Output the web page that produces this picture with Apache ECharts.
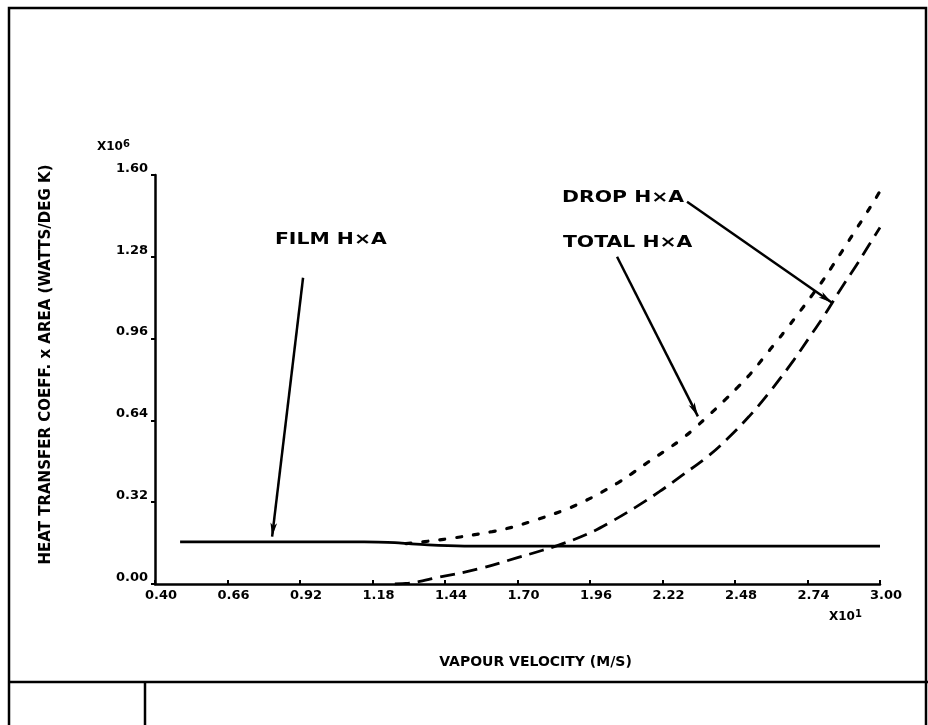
<!DOCTYPE html>
<html><head><meta charset="utf-8">
<script src="https://cdn.jsdelivr.net/npm/echarts@6/dist/echarts.min.js"></script>
<style>html,body{margin:0;padding:0;background:#fff}#c{width:928px;height:725px}</style>
</head><body><div id="c"></div><script>
// ---- data ----
const xTicks = [0.40,0.66,0.92,1.18,1.44,1.70,1.96,2.22,2.48,2.74,3.00];
const yTicks = [0.00,0.32,0.64,0.96,1.28,1.60];

const filmX = [0.49,0.80,1.10,1.20,1.26,1.32,1.38,1.45,1.55,2.00,2.50,3.00];
const filmY = [0.165,0.165,0.165,0.164,0.162,0.157,0.153,0.150,0.148,0.148,0.148,0.148];

const totalX = [1.30,1.40,1.47,1.61,1.68,1.75,1.87,1.94,2.00,2.06,2.11,2.17,2.23,2.29,2.34,2.39,2.44,2.49,2.54,2.58,2.63,2.67,2.71,2.76,2.80,2.83,2.87,2.91,2.95,2.98,3.00];
const totalY = [0.158,0.170,0.180,0.205,0.222,0.245,0.290,0.324,0.358,0.396,0.432,0.478,0.522,0.568,0.614,0.664,0.716,0.770,0.828,0.882,0.950,1.005,1.062,1.135,1.195,1.245,1.312,1.380,1.448,1.500,1.537];

const dropX = [1.26,1.31,1.42,1.56,1.70,1.79,1.86,1.95,2.03,2.12,2.21,2.29,2.38,2.45,2.53,2.60,2.69,2.75,2.80,2.86,2.92,2.96,3.00];
const dropY = [0.000,0.003,0.027,0.059,0.103,0.132,0.157,0.195,0.240,0.298,0.362,0.425,0.497,0.565,0.655,0.745,0.875,0.970,1.050,1.155,1.255,1.325,1.395];

const annotLabels = ['FILM H×A','TOTAL H×A','DROP H×A'];
const annotTextAt = [[0.83,1.346],[1.863,1.335],[1.86,1.51]];
const arrowFrom = [[0.931,1.198],[2.057,1.28],[2.308,1.495]];
const arrowTo = [[0.82,0.185],[2.347,0.656],[2.828,1.10]];

const xName = 'VAPOUR VELOCITY (M/S)';
const yName = 'HEAT TRANSFER COEFF. x AREA (WATTS/DEG K)';

// ---- chart ----
const FONT = 'DejaVu Sans';
const pairs = (xs, ys) => xs.map((x, i) => [x, ys[i]]);
const chart = echarts.init(document.getElementById('c'), null, {renderer: 'canvas'});

const frame = [
  {type: 'rect', shape: {x: 9, y: 8, width: 917, height: 730}, style: {fill: 'none', stroke: '#000', lineWidth: 2.5}, silent: true},
  {type: 'line', shape: {x1: 9, y1: 682, x2: 928, y2: 682}, style: {stroke: '#000', lineWidth: 2.5}, silent: true},
  {type: 'line', shape: {x1: 145, y1: 682, x2: 145, y2: 725}, style: {stroke: '#000', lineWidth: 2.5}, silent: true},
  {type: 'text', x: 97, y: 139, style: {text: 'X10{s|6}', fill: '#000', font: 'bold 12px ' + FONT,
    rich: {s: {fontSize: 10, fontWeight: 'bold', fontFamily: FONT, verticalAlign: 'top', padding: [0,0,6,0]}}}},
  {type: 'text', x: 829, y: 609, style: {text: 'X10{s|1}', fill: '#000', font: 'bold 12px ' + FONT,
    rich: {s: {fontSize: 10, fontWeight: 'bold', fontFamily: FONT, verticalAlign: 'top', padding: [0,0,6,0]}}}}
];

chart.setOption({
  backgroundColor: '#fff',
  animation: false,
  textStyle: {fontFamily: FONT, fontWeight: 'bold', color: '#000'},
  grid: {left: 155, right: 48, top: 175, bottom: 141},
  xAxis: {
    type: 'value', min: 0.40, max: 3.00,
    name: xName, nameLocation: 'middle', nameGap: 71,
    nameTextStyle: {fontFamily: FONT, fontWeight: 'bold', fontSize: 14, color: '#000', padding: [0,0,0,36]},
    axisLine: {show: true, lineStyle: {color: '#000', width: 2.5}},
    axisTick: {show: true, inside: true, length: 4, customValues: xTicks, lineStyle: {color: '#000', width: 2}},
    axisLabel: {customValues: xTicks, formatter: v => v.toFixed(2), margin: 5,
      fontFamily: FONT, fontWeight: 'bold', fontSize: 13, color: '#000', padding: [0,0,0,12]},
    splitLine: {show: false}
  },
  yAxis: {
    type: 'value', min: 0, max: 1.60,
    name: yName, nameLocation: 'middle', nameGap: 101, nameRotate: 90,
    nameTextStyle: {fontFamily: FONT, fontWeight: 'bold', fontSize: 15, color: '#000', padding: [0,0,0,30]},
    axisLine: {show: true, lineStyle: {color: '#000', width: 2.5}},
    axisTick: {show: true, inside: false, length: 4, customValues: yTicks, lineStyle: {color: '#000', width: 2}},
    axisLabel: {customValues: yTicks, formatter: v => v.toFixed(2), margin: 7, verticalAlign: 'bottom',
      fontFamily: FONT, fontWeight: 'bold', fontSize: 13, color: '#000'},
    splitLine: {show: false}
  },
  series: [
    {
      name: 'FILM', type: 'line', data: pairs(filmX, filmY), smooth: 0.3, showSymbol: false,
      lineStyle: {color: '#000', width: 2.8, type: 'solid'}, silent: true,
      markLine: {
        silent: true, symbol: ['none', 'arrow'], symbolSize: [5, 14], label: {show: false},
        lineStyle: {color: '#000', width: 2.5, type: 'solid'},
        data: arrowFrom.map((f, i) => [{coord: f}, {coord: arrowTo[i]}])
      }
    },
    {
      name: 'TOTAL', type: 'line', data: pairs(totalX, totalY), smooth: 0.4, showSymbol: false,
      lineStyle: {color: '#000', width: 3.2, type: [5, 12], cap: 'round'}, silent: true
    },
    {
      name: 'DROP', type: 'line', data: pairs(dropX, dropY), smooth: 0.4, showSymbol: false,
      lineStyle: {color: '#000', width: 2.8, type: [15, 8]}, silent: true
    }
  ],
  graphic: frame
});

// annotation texts placed at data coordinates through the grid's scales
const annot = annotTextAt.map((c, i) => {
  const p = chart.convertToPixel({gridIndex: 0}, c);
  return {type: 'text', x: p[0], y: p[1], scaleX: 1.36, silent: true,
    style: {text: annotLabels[i], fill: '#000', font: 'bold 15px ' + FONT, align: 'left', verticalAlign: 'middle'}};
});
chart.setOption({graphic: frame.concat(annot)});
</script></body></html>
